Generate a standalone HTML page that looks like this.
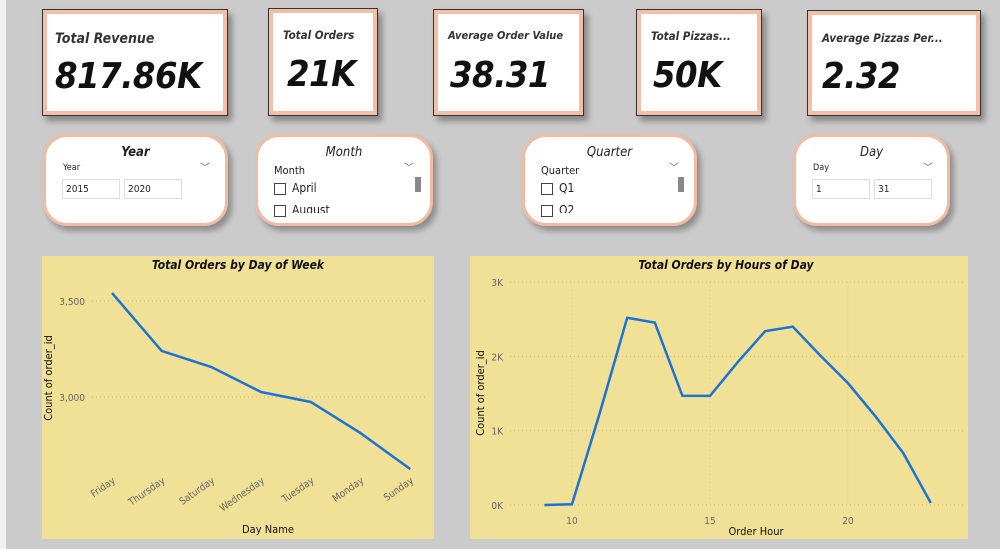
<!DOCTYPE html>
<html><head><meta charset="utf-8">
<style>
*{box-sizing:border-box;margin:0;padding:0}
body{width:1000px;height:549px;background:#cbcbcb;font-family:"DejaVu Sans Condensed","Liberation Sans",sans-serif;position:relative;overflow:hidden}
.leftbar{position:absolute;left:0;top:0;width:6px;height:549px;background:#f2f2f2}
.card{position:absolute;background:#fff;border:1px solid #333;box-shadow:4px 5px 6px rgba(0,0,0,.35);overflow:hidden}
.card .in{position:absolute;inset:0;border:4px solid #f2c0a8}
.card .t{position:absolute;left:12px;top:19px;font-size:11.5px;font-weight:bold;font-style:italic;color:#333;white-space:nowrap}
.card .v{position:absolute;left:12px;top:45px;font-size:36px;font-weight:bold;font-style:italic;color:#111;letter-spacing:-0.5px}
.sl{position:absolute;background:#fff;border:3px solid #f0bba2;border-radius:24px;box-shadow:4px 5px 6px rgba(0,0,0,.3)}
.sl .h{position:absolute;top:8px;width:100%;text-align:center;font-size:13px;font-style:italic;color:#222}
.sl .lab{position:absolute;font-size:11px;color:#222}
.box{position:absolute;border:1px solid #ddd;font-size:10px;padding:4px 3px;color:#222;height:20px}
.chev{position:absolute;font-size:10px;color:#666}
.cb{position:absolute;width:12px;height:12px;border:1px solid #444}
.sb{position:absolute;width:6px;height:15px;background:#888}
.chart{position:absolute;background:#f0e197}
</style></head><body>
<div class="leftbar"></div>

<div class="card" style="left:42px;top:9px;width:186px;height:107px"><div class="in"></div><div class="t" style="font-size:14px;top:21px">Total Revenue</div><div class="v" style="top:46px">817.86K</div></div>
<div class="card" style="left:268px;top:8px;width:110px;height:108px"><div class="in"></div><div class="t" style="left:14px">Total Orders</div><div class="v" style="left:18px">21K</div></div>
<div class="card" style="left:433px;top:9px;width:151px;height:107px"><div class="in"></div><div class="t" style="left:14px;font-size:11px">Average Order Value</div><div class="v" style="left:16px">38.31</div></div>
<div class="card" style="left:636px;top:9px;width:126px;height:107px"><div class="in"></div><div class="t" style="left:14px">Total Pizzas...</div><div class="v" style="left:16px">50K</div></div>
<div class="card" style="left:807px;top:10px;width:174px;height:106px"><div class="in"></div><div class="t" style="top:20px;left:14px">Average Pizzas Per...</div><div class="v" style="left:14px">2.32</div></div>

<div class="sl" style="left:43px;top:134px;width:185px;height:92px">
<div class="h" style="font-weight:bold">Year</div><div class="lab" style="left:17px;top:26px;font-size:9px">Year</div><div class="chev" style="left:154px;top:22px">﹀</div>
<div class="box" style="left:16px;top:42px;width:58px">2015</div><div class="box" style="left:78px;top:42px;width:58px">2020</div></div>
<div class="sl" style="left:255px;top:134px;width:178px;height:92px;overflow:hidden">
<div class="h">Month</div><div class="lab" style="left:16px;top:27px">Month</div><div class="chev" style="left:146px;top:22px">﹀</div>
<div class="cb" style="left:16px;top:46px"></div><div class="lab" style="left:34px;top:44px;font-size:12px">April</div>
<div class="cb" style="left:16px;top:68px"></div><div class="lab" style="left:34px;top:66px;font-size:12px;height:10px;overflow:hidden">August</div><div class="sb" style="left:157px;top:40px"></div></div>
<div class="sl" style="left:522px;top:134px;width:175px;height:92px;overflow:hidden">
<div class="h">Quarter</div><div class="lab" style="left:16px;top:27px">Quarter</div><div class="chev" style="left:144px;top:22px">﹀</div>
<div class="cb" style="left:16px;top:46px"></div><div class="lab" style="left:34px;top:44px;font-size:12px">Q1</div>
<div class="cb" style="left:16px;top:68px"></div><div class="lab" style="left:34px;top:66px;font-size:12px;height:10px;overflow:hidden">Q2</div><div class="sb" style="left:153px;top:40px"></div></div>
<div class="sl" style="left:793px;top:134px;width:157px;height:92px">
<div class="h">Day</div><div class="lab" style="left:17px;top:26px;font-size:9px">Day</div><div class="chev" style="left:127px;top:22px">﹀</div>
<div class="box" style="left:16px;top:42px;width:58px">1</div><div class="box" style="left:78px;top:42px;width:58px">31</div></div>

<svg class="chart" id="c1" style="left:42px;top:256px" width="392" height="283"></svg>
<svg class="chart" id="c2" style="left:470px;top:256px" width="498" height="283"></svg>

<script>
const dayNames=["Friday","Thursday","Saturday","Wednesday","Tuesday","Monday","Sunday"];
const dayOrders=[3542,3240,3156,3026,2974,2812,2625];
const dayTicks=[3000,3500];
const dayTickLabels=["3,000","3,500"];
const hours=[9,10,11,12,13,14,15,16,17,18,19,20,21,22,23];
const hourOrders=[0,10,1230,2520,2455,1470,1468,1920,2340,2400,2010,1640,1190,700,28];
const hourTicks=[0,1000,2000,3000];
const hourTickLabels=["0K","1K","2K","3K"];
const hourXTicks=[10,15,20];

const NS="http://www.w3.org/2000/svg";
function mk(svg,tag,attrs,txt){const e=document.createElementNS(NS,tag);for(const k in attrs)e.setAttribute(k,attrs[k]);if(txt!==undefined)e.textContent=txt;svg.appendChild(e);return e;}

(function(){
const s=document.getElementById('c1');
const y=v=>45+(3500-v)*96/500;
const x=i=>70+i*49.7;
let t=mk(s,'text',{x:196,y:13,'text-anchor':'middle','font-size':12,'font-weight':'bold','font-style':'italic',fill:'#111'},'Total Orders by Day of Week');

dayTicks.forEach((v,i)=>{
 const g=mk(s,'line',{x1:50,x2:385,y1:y(v),y2:y(v),stroke:'#c8bb7a','stroke-dasharray':'1,3'});
 
 const l=mk(s,'text',{x:43,y:y(v)+4,'text-anchor':'end','font-size':10,fill:'#666'},dayTickLabels[i]);
 
});
dayNames.forEach((n,i)=>{
 const l=mk(s,'text',{x:x(i)+4,y:226,'text-anchor':'end','font-size':10,fill:'#666',transform:`rotate(-35 ${x(i)+4} 226)`},n);
 
});
const p=mk(s,'polyline',{points:dayOrders.map((v,i)=>x(i)+','+y(v)).join(' '),fill:'none',stroke:'#1a73d6','stroke-width':2.5});

let a=mk(s,'text',{x:10,y:122,'text-anchor':'middle','font-size':11,fill:'#111',transform:'rotate(-90 10 122)'},'Count of order_id');

a=mk(s,'text',{x:226,y:277,'text-anchor':'middle','font-size':11,fill:'#111'},'Day Name');

})();

(function(){
const s=document.getElementById('c2');
const y=v=>249-v*74.3/1000;
const x=h=>102+(h-10)*27.6;
let t=mk(s,'text',{x:256,y:13,'text-anchor':'middle','font-size':12,'font-weight':'bold','font-style':'italic',fill:'#111'},'Total Orders by Hours of Day');

hourTicks.forEach((v,i)=>{
 const g=mk(s,'line',{x1:40,x2:495,y1:y(v),y2:y(v),stroke:'#c8bb7a','stroke-dasharray':'1,3'});
 
 const l=mk(s,'text',{x:33,y:y(v)+4,'text-anchor':'end','font-size':10,fill:'#666'},hourTickLabels[i]);
 
});
hourXTicks.forEach(h=>{
 const g=mk(s,'line',{x1:x(h),x2:x(h),y1:y(3000),y2:y(0),stroke:'#d8cb8a','stroke-dasharray':'1,3'});
 
 const l=mk(s,'text',{x:x(h),y:268,'text-anchor':'middle','font-size':10,fill:'#666'},String(h));
 
});
const p=mk(s,'polyline',{points:hourOrders.map((v,i)=>x(hours[i])+','+y(v)).join(' '),fill:'none',stroke:'#1a73d6','stroke-width':2.5});

let a=mk(s,'text',{x:14,y:137,'text-anchor':'middle','font-size':11,fill:'#111',transform:'rotate(-90 14 137)'},'Count of order_id');

a=mk(s,'text',{x:286,y:279,'text-anchor':'middle','font-size':11,fill:'#111'},'Order Hour');

})();
</script>
</body></html>
